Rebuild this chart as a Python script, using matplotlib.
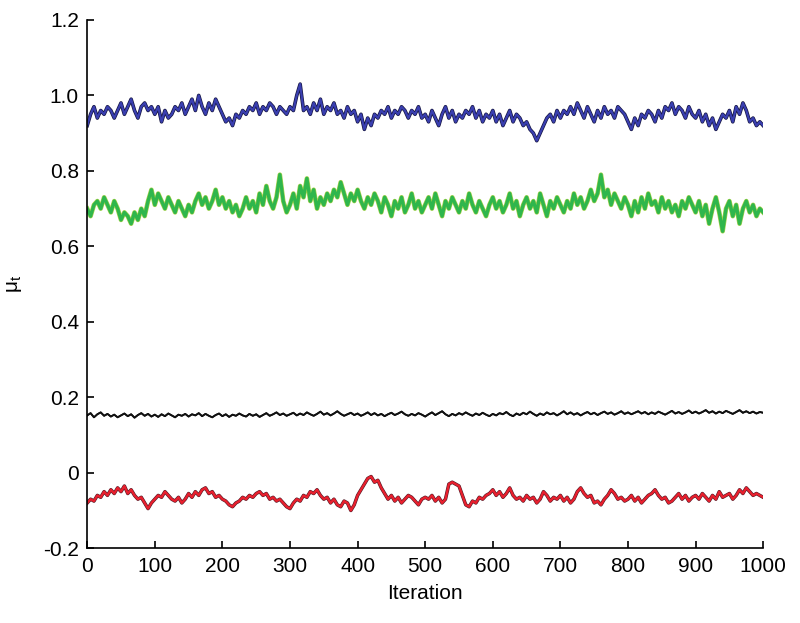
import numpy as np
import matplotlib
matplotlib.use("Agg")
import matplotlib.pyplot as plt
import matplotlib.patheffects as pe

plt.rcParams["font.family"] = ["Liberation Sans", "DejaVu Sans"]
plt.rcParams["mathtext.fontset"] = "custom"
plt.rcParams["mathtext.rm"] = "Liberation Sans"

# trace values, one every 5 iterations (0..1000)
mu_blue = [
    0.92, 0.95, 0.97, 0.94, 0.96, 0.95, 0.97, 0.96, 0.94, 0.96, 0.98, 0.95, 0.97, 0.99, 0.96, 0.94, 0.97, 0.98, 0.96, 0.97,
    0.95, 0.97, 0.93, 0.96, 0.94, 0.95, 0.97, 0.96, 0.98, 0.95, 0.97, 0.99, 0.96, 1.00, 0.97, 0.95, 0.98, 0.96, 0.99, 0.97,
    0.95, 0.93, 0.94, 0.92, 0.95, 0.94, 0.96, 0.95, 0.97, 0.96, 0.98, 0.95, 0.97, 0.96, 0.98, 0.97, 0.95, 0.97, 0.96, 0.95,
    0.97, 0.96, 1.00, 1.03, 0.96, 0.97, 0.95, 0.98, 0.96, 0.99, 0.95, 0.97, 0.96, 0.98, 0.95, 0.96, 0.94, 0.97, 0.95, 0.96,
    0.93, 0.95, 0.91, 0.94, 0.92, 0.95, 0.94, 0.96, 0.95, 0.97, 0.94, 0.96, 0.95, 0.97, 0.96, 0.94, 0.96, 0.95, 0.97, 0.94,
    0.95, 0.93, 0.96, 0.94, 0.92, 0.95, 0.97, 0.94, 0.96, 0.93, 0.95, 0.94, 0.96, 0.95, 0.97, 0.94, 0.96, 0.93, 0.95, 0.94,
    0.96, 0.93, 0.95, 0.92, 0.94, 0.96, 0.93, 0.95, 0.94, 0.92, 0.93, 0.91, 0.90, 0.88, 0.90, 0.92, 0.94, 0.95, 0.93, 0.96,
    0.94, 0.96, 0.95, 0.97, 0.95, 0.98, 0.96, 0.94, 0.97, 0.95, 0.93, 0.96, 0.94, 0.97, 0.95, 0.96, 0.94, 0.97, 0.96, 0.95,
    0.93, 0.91, 0.94, 0.92, 0.95, 0.94, 0.96, 0.95, 0.93, 0.96, 0.94, 0.97, 0.96, 0.98, 0.95, 0.97, 0.96, 0.94, 0.97, 0.95,
    0.94, 0.96, 0.93, 0.95, 0.92, 0.94, 0.91, 0.93, 0.95, 0.94, 0.96, 0.93, 0.97, 0.95, 0.98, 0.96, 0.93, 0.94, 0.92, 0.93, 0.92,
]

mu_green = [
    0.70, 0.68, 0.71, 0.72, 0.70, 0.73, 0.71, 0.69, 0.72, 0.70, 0.67, 0.69, 0.68, 0.66, 0.69, 0.67, 0.70, 0.68, 0.72, 0.75,
    0.71, 0.74, 0.72, 0.70, 0.73, 0.71, 0.69, 0.72, 0.70, 0.68, 0.71, 0.69, 0.72, 0.74, 0.71, 0.73, 0.70, 0.72, 0.75, 0.71,
    0.73, 0.70, 0.72, 0.69, 0.71, 0.68, 0.70, 0.73, 0.70, 0.72, 0.69, 0.74, 0.71, 0.76, 0.72, 0.70, 0.73, 0.79, 0.72, 0.69,
    0.71, 0.74, 0.70, 0.76, 0.73, 0.78, 0.72, 0.75, 0.70, 0.73, 0.71, 0.74, 0.72, 0.75, 0.73, 0.77, 0.74, 0.71, 0.74, 0.72,
    0.75, 0.72, 0.70, 0.73, 0.71, 0.74, 0.72, 0.69, 0.73, 0.71, 0.68, 0.72, 0.70, 0.73, 0.69, 0.71, 0.74, 0.70, 0.72, 0.69,
    0.71, 0.73, 0.70, 0.74, 0.71, 0.68, 0.72, 0.70, 0.73, 0.71, 0.69, 0.72, 0.70, 0.74, 0.71, 0.69, 0.72, 0.70, 0.68, 0.71,
    0.73, 0.70, 0.72, 0.69, 0.71, 0.74, 0.70, 0.72, 0.68, 0.71, 0.73, 0.70, 0.72, 0.69, 0.74, 0.71, 0.68, 0.72, 0.70, 0.73,
    0.71, 0.69, 0.72, 0.70, 0.74, 0.71, 0.73, 0.70, 0.72, 0.75, 0.72, 0.74, 0.79, 0.73, 0.75, 0.71, 0.74, 0.72, 0.70, 0.73,
    0.71, 0.68, 0.72, 0.69, 0.73, 0.70, 0.74, 0.71, 0.72, 0.69, 0.73, 0.70, 0.72, 0.69, 0.71, 0.68, 0.72, 0.70, 0.73, 0.71,
    0.69, 0.72, 0.68, 0.71, 0.66, 0.70, 0.73, 0.69, 0.64, 0.70, 0.72, 0.68, 0.71, 0.66, 0.70, 0.72, 0.69, 0.71, 0.68, 0.70, 0.69,
]

mu_black = [
    0.152, 0.158, 0.147, 0.155, 0.160, 0.151, 0.156, 0.149, 0.154, 0.147, 0.152, 0.157, 0.150, 0.155, 0.146, 0.153, 0.158, 0.151, 0.156, 0.149,
    0.154, 0.148, 0.155, 0.150, 0.157, 0.152, 0.147, 0.154, 0.151, 0.156, 0.149, 0.155, 0.152, 0.158, 0.150, 0.156, 0.151, 0.147, 0.153, 0.157,
    0.150, 0.155, 0.148, 0.154, 0.151, 0.157, 0.152, 0.149, 0.156, 0.151, 0.155, 0.148, 0.153, 0.158, 0.151, 0.155, 0.160, 0.153, 0.157, 0.151,
    0.155, 0.159, 0.152, 0.157, 0.153, 0.160, 0.155, 0.151, 0.156, 0.162, 0.154, 0.158, 0.152, 0.157, 0.163, 0.156, 0.151, 0.155, 0.159, 0.153,
    0.157, 0.151, 0.155, 0.160, 0.153, 0.158, 0.152, 0.156, 0.150, 0.155, 0.159, 0.153, 0.157, 0.162, 0.155, 0.151, 0.156, 0.152, 0.158, 0.154,
    0.149, 0.155, 0.160, 0.153, 0.158, 0.163, 0.155, 0.150, 0.156, 0.152, 0.158, 0.154, 0.160, 0.155, 0.151, 0.157, 0.153, 0.159, 0.154, 0.150,
    0.156, 0.152, 0.158, 0.155, 0.161, 0.154, 0.150, 0.157, 0.153, 0.159, 0.155, 0.162, 0.156, 0.151, 0.157, 0.153, 0.160, 0.155, 0.158, 0.152,
    0.157, 0.163, 0.155, 0.160, 0.154, 0.158, 0.152, 0.157, 0.161, 0.155, 0.159, 0.153, 0.158, 0.162, 0.156, 0.160, 0.154, 0.158, 0.163, 0.156,
    0.160, 0.155, 0.159, 0.163, 0.157, 0.161, 0.155, 0.160, 0.156, 0.162, 0.158, 0.154, 0.159, 0.164, 0.157, 0.161, 0.156, 0.160, 0.165, 0.158,
    0.162, 0.157, 0.161, 0.166, 0.159, 0.163, 0.157, 0.162, 0.158, 0.164, 0.160, 0.156, 0.161, 0.166, 0.159, 0.163, 0.158, 0.162, 0.157, 0.161, 0.159,
]

mu_red = [
    -0.08, -0.07, -0.075, -0.06, -0.065, -0.05, -0.06, -0.045, -0.055, -0.04, -0.05, -0.035, -0.055, -0.045, -0.06, -0.07, -0.065, -0.08, -0.095, -0.08,
    -0.07, -0.06, -0.065, -0.05, -0.06, -0.07, -0.075, -0.065, -0.08, -0.07, -0.055, -0.065, -0.05, -0.06, -0.045, -0.04, -0.055, -0.05, -0.065, -0.06,
    -0.07, -0.075, -0.085, -0.09, -0.08, -0.075, -0.065, -0.07, -0.06, -0.065, -0.055, -0.05, -0.06, -0.055, -0.07, -0.065, -0.075, -0.07, -0.08, -0.09,
    -0.095, -0.08, -0.07, -0.075, -0.06, -0.065, -0.05, -0.055, -0.045, -0.06, -0.07, -0.065, -0.08, -0.07, -0.085, -0.09, -0.075, -0.08, -0.10, -0.085,
    -0.06, -0.045, -0.03, -0.015, -0.01, -0.025, -0.02, -0.04, -0.055, -0.07, -0.06, -0.075, -0.065, -0.08, -0.07, -0.06, -0.065, -0.075, -0.085, -0.07,
    -0.065, -0.07, -0.06, -0.075, -0.065, -0.08, -0.07, -0.03, -0.025, -0.03, -0.035, -0.06, -0.085, -0.09, -0.075, -0.08, -0.065, -0.07, -0.06, -0.055,
    -0.045, -0.06, -0.05, -0.065, -0.055, -0.04, -0.06, -0.07, -0.065, -0.075, -0.06, -0.07, -0.065, -0.08, -0.07, -0.05, -0.06, -0.075, -0.065, -0.07,
    -0.06, -0.075, -0.065, -0.08, -0.07, -0.05, -0.04, -0.055, -0.065, -0.06, -0.08, -0.075, -0.085, -0.07, -0.06, -0.045, -0.055, -0.07, -0.065, -0.075,
    -0.07, -0.06, -0.075, -0.065, -0.08, -0.07, -0.06, -0.055, -0.045, -0.06, -0.07, -0.065, -0.08, -0.075, -0.065, -0.055, -0.07, -0.06, -0.075, -0.065,
    -0.06, -0.07, -0.055, -0.065, -0.075, -0.06, -0.07, -0.05, -0.065, -0.06, -0.055, -0.07, -0.06, -0.045, -0.055, -0.04, -0.05, -0.06, -0.055, -0.06, -0.065,
]

iterations = np.arange(0, 1001, 5)

# (values, core colour, core width, outline colour, outline width)
traces = [
    (mu_blue, "#3a3fb0", 1.6, "#15153f", 2.6),
    (mu_green, "#2fb64c", 2.4, "#a6d24a", 3.3),
    (mu_black, "#111111", 1.3, "#111111", 1.3),
    (mu_red, "#e8202e", 1.7, "#4e1a26", 2.5),
]

fig = plt.figure(figsize=(8.0, 6.23), dpi=100)
ax = fig.add_axes([0.109, 0.120, 0.845, 0.848])

for vals, col, lw, edge, elw in traces:
    ax.plot(iterations, vals, color=col, lw=lw, solid_joinstyle="round",
            path_effects=[pe.Stroke(linewidth=elw, foreground=edge, joinstyle="round"),
                          pe.Normal()])

ax.set_xlim(0, 1000)
ax.set_ylim(-0.2, 1.2)
ax.set_xticks(np.arange(0, 1001, 100))
ax.set_yticks([-0.2, 0, 0.2, 0.4, 0.6, 0.8, 1.0, 1.2])
ax.set_yticklabels(["-0.2", "0", "0.2", "0.4", "0.6", "0.8", "1.0", "1.2"])

for s in ["top", "right"]:
    ax.spines[s].set_visible(False)
for s in ["left", "bottom"]:
    ax.spines[s].set_linewidth(1.2)

ax.tick_params(direction="in", length=5, width=1.2, labelsize=15, pad=6)
ax.set_xlabel("Iteration", fontsize=15, labelpad=6)
ax.set_ylabel("μ$_\\mathrm{t}$", fontsize=15, labelpad=14)

fig.savefig("out.png", dpi=100)
